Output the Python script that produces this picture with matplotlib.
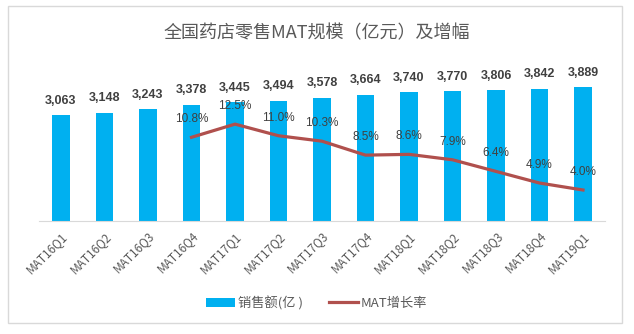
import numpy as np
import matplotlib
matplotlib.use('Agg')
import matplotlib.pyplot as plt
from matplotlib.patches import Rectangle

plt.rcParams['font.family'] = ['Noto Sans CJK SC', 'DejaVu Sans']

# 数据
periods = ['MAT16Q1', 'MAT16Q2', 'MAT16Q3', 'MAT16Q4', 'MAT17Q1', 'MAT17Q2', 'MAT17Q3',
           'MAT17Q4', 'MAT18Q1', 'MAT18Q2', 'MAT18Q3', 'MAT18Q4', 'MAT19Q1']
sales = [3063, 3148, 3243, 3378, 3445, 3494, 3578, 3664, 3740, 3770, 3806, 3842, 3889]
growth = [np.nan, np.nan, np.nan, 10.8, 12.5, 11.0, 10.3, 8.5, 8.6, 7.9, 6.4, 4.9, 4.0]

bar_color = '#00B0F0'
line_color = '#B0504D'
text_gray = '#595959'
label_gray = '#404040'

fig = plt.figure(figsize=(6.34, 3.34), dpi=100)
fig.patch.set_facecolor('white')

# 外框
fig.patches.append(Rectangle((0.0126, 0.033), 0.9685, 0.949, transform=fig.transFigure,
                             fill=False, edgecolor='#D9D9D9', linewidth=1))

ax = fig.add_axes([0.0619, 0.3383, 0.892, 0.4641])
x = np.arange(len(periods))
bars = ax.bar(x, sales, width=0.40, color=bar_color, label='销售额(亿 )', zorder=2)
ax.set_ylim(0, 4500)
ax.set_xlim(-0.5, len(periods) - 0.5)

for xi, v in zip(x, sales):
    ax.annotate('{:,}'.format(v), (xi, v), xytext=(0, 6), textcoords='offset points',
                ha='center', va='bottom', fontsize=9, fontweight='bold',
                family='Liberation Sans', color=label_gray)

ax.set_yticks([])
for s in ['top', 'right', 'left']:
    ax.spines[s].set_visible(False)
ax.spines['bottom'].set_color('#D9D9D9')
ax.set_xticks(x)
ax.set_xticklabels(periods, rotation=45, ha='right', rotation_mode='anchor',
                   fontsize=8.5, color=text_gray)
ax.tick_params(axis='x', length=0, pad=6)

ax2 = ax.twinx()
ax2.set_ylim(0, 20)
g = np.array(growth)
ln, = ax2.plot(x, g, color=line_color, linewidth=2.3, label='MAT增长率', zorder=3)
for xi, v in zip(x, g):
    if not np.isnan(v):
        ax2.annotate('{:.1f}%'.format(v), (xi, v), xytext=(0, 13), textcoords='offset points',
                     ha='center', va='center', fontsize=8.5, family='Liberation Sans',
                     color=label_gray)
ax2.set_yticks([])
for s in ax2.spines.values():
    s.set_visible(False)

fig.text(0.5, 0.901, '全国药店零售MAT规模（亿元）及增幅', ha='center', va='center',
         fontsize=13, color=text_gray)

fig.legend([bars, ln], ['销售额(亿 )', 'MAT增长率'], loc='center', bbox_to_anchor=(0.5, 0.093),
           ncol=2, frameon=False, fontsize=9.5, labelcolor=text_gray,
           handlelength=2.2, handletextpad=0.2, columnspacing=2.0)

fig.savefig('out.png', dpi=100)
